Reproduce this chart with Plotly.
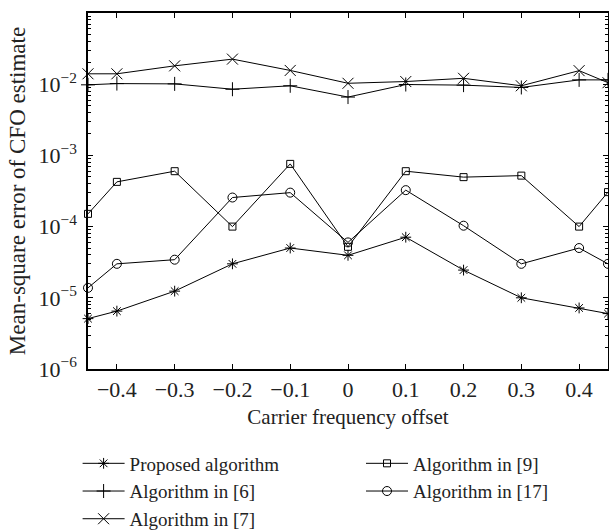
import plotly.graph_objects as go

# Carrier frequency offset (normalized) at which each estimator was evaluated
cfo = [-0.45, -0.4, -0.3, -0.2, -0.1, 0.0, 0.1, 0.2, 0.3, 0.4, 0.45]

# Mean-square error of the CFO estimate for each algorithm
mse_proposed = [5.1e-6, 6.5e-6, 1.24e-5, 3.0e-5, 5.0e-5, 3.95e-5, 7.1e-5, 2.45e-5, 1.0e-5, 7.2e-6, 6.0e-6]
mse_ref6 = [0.0098, 0.0102, 0.0101, 0.0085, 0.0095, 0.0066, 0.0099, 0.0097, 0.0090, 0.0115, 0.0115]
mse_ref7 = [0.0140, 0.0140, 0.0181, 0.0225, 0.0156, 0.0103, 0.0109, 0.0121, 0.0095, 0.0155, 0.0105]
mse_ref9 = [1.51e-4, 4.25e-4, 6.0e-4, 1.0e-4, 7.6e-4, 5.2e-5, 6.0e-4, 4.95e-4, 5.2e-4, 1.0e-4, 3.05e-4]
mse_ref17 = [1.38e-5, 3.0e-5, 3.43e-5, 2.56e-4, 3.0e-4, 6.0e-5, 3.25e-4, 1.03e-4, 3.0e-5, 5.0e-5, 3.0e-5]

x_ticks = [-0.4, -0.3, -0.2, -0.1, 0, 0.1, 0.2, 0.3, 0.4]
x_ticktext = ["\u22120.4", "\u22120.3", "\u22120.2", "\u22120.1", "0", "0.1", "0.2", "0.3", "0.4"]
y_exponents = [-6, -5, -4, -3, -2, -1]

FONT = "Liberation Serif"
INK = "#222222"
FS = 21

series = [
    ("Proposed algorithm", mse_proposed, "asterisk-open", 9, "legend"),
    ("Algorithm in [6]", mse_ref6, "cross-thin-open", 10, "legend"),
    ("Algorithm in [7]", mse_ref7, "x-thin-open", 11, "legend"),
    ("Algorithm in [9]", mse_ref9, "square-open", 7, "legend2"),
    ("Algorithm in [17]", mse_ref17, "circle-open", 9, "legend2"),
]

fig = go.Figure()
for name, values, symbol, size, leg in series:
    fig.add_trace(go.Scatter(
        x=cfo, y=values, name=name, mode="lines+markers",
        line=dict(color="black", width=1),
        marker=dict(symbol=symbol, size=size, color="black",
                    line=dict(color="black", width=1)),
        legend=leg, cliponaxis=False,
    ))

minor_vals = [m * 10.0 ** e for e in range(-6, -1) for m in range(2, 10)]

legend_style = dict(
    xanchor="left", yanchor="top",
    font=dict(family=FONT, size=19, color=INK),
    itemwidth=42, tracegroupgap=0, bgcolor="rgba(0,0,0,0)",
)

fig.update_layout(
    width=609, height=531,
    margin=dict(l=88, r=1, t=13, b=162, autoexpand=False),
    paper_bgcolor="white", plot_bgcolor="white",
    font=dict(family=FONT, size=FS, color=INK),
    showlegend=True,
    legend=dict(x=-0.02, y=-0.212, **legend_style),
    legend2=dict(x=0.525, y=-0.212, **legend_style),
    xaxis=dict(
        range=[-0.45, 0.45], tickvals=x_ticks, ticktext=x_ticktext,
        ticks="inside", ticklen=5, tickcolor="black", tickwidth=1,
        showline=True, linecolor="black", linewidth=1.5, mirror="allticks",
        showgrid=False, zeroline=False, automargin=False,
        tickfont=dict(family=FONT, size=22, color=INK),
        title=dict(text="Carrier frequency offset", standoff=8,
                   font=dict(family=FONT, size=FS, color=INK)),
    ),
    yaxis=dict(
        type="log", range=[-6, -1],
        tickvals=[10.0 ** e for e in y_exponents],
        ticktext=["10<sup>\u2212%d</sup>" % (-e) for e in y_exponents],
        ticks="inside", ticklen=5, tickcolor="black", tickwidth=1,
        ticklabelstandoff=5,
        minor=dict(tickvals=minor_vals, ticks="inside", ticklen=3,
                   tickcolor="black", tickwidth=1, showgrid=False),
        showline=True, linecolor="black", linewidth=1.5, mirror="allticks",
        showgrid=False, zeroline=False, automargin=False,
        tickfont=dict(family=FONT, size=22, color=INK),
        title=dict(text="Mean-square error of CFO estimate", standoff=6,
                   font=dict(family=FONT, size=23, color=INK)),
    ),
)

fig.write_html("out.html")
